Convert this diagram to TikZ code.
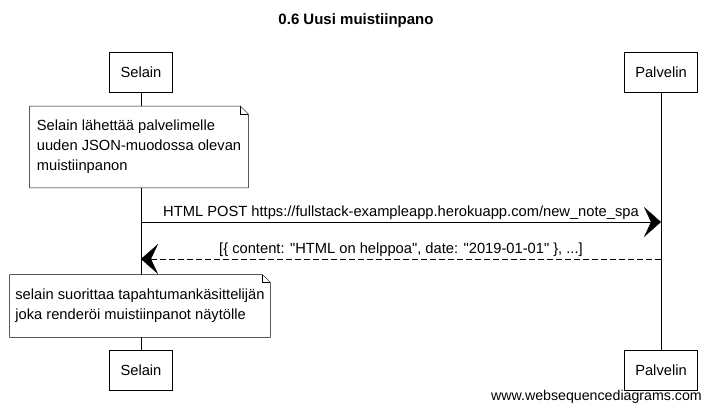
\documentclass[tikz,border=0pt]{standalone}
\usepackage{fontspec}
\setmainfont{Liberation Sans}
\usetikzlibrary{arrows.meta}
\usetikzlibrary{positioning}
\usetikzlibrary{backgrounds}

\tikzset{
    actor/.style={rectangle, draw, fill=white, inner xsep=11pt, minimum height=40pt},
    note/.style={rectangle, align=left, inner xsep=5pt, inner ysep=0pt},
    msg/.style={-{Stealth[length=17pt,width=30pt,inset=7pt]}},
    reply/.style={msg, dash pattern=on 6pt off 3pt},
}

\begin{document}
\begin{tikzpicture}[x=1pt, y=-1pt, line width=0.8pt,
    every node/.style={font=\fontsize{14.7}{20}\selectfont}]
    \useasboundingbox (0,0) rectangle (711,415);

    \draw (356, 21) node[font=\fontsize{15}{20}\selectfont\bfseries] (title) {0.6 Uusi muistiinpano};

    \foreach \who/\x/\lab in {selain/141/Selain, palvelin/661/Palvelin}{
        \draw (\x, 72) node[actor] (top\who) {\lab};
        \draw (\x, 370) node[actor] (bot\who) {\lab};
    }

    \draw (139, 147) node[note, minimum width=218pt, minimum height=81pt] (note1)
        {Selain lähettää palvelimelle\\uuden JSON-muodossa olevan\\muistiinpanon};
    \draw (140, 306) node[note, minimum width=260pt, minimum height=62pt] (note2)
        {selain suorittaa tapahtumankäsittelijän\\joka renderöi muistiinpanot näytölle};

    \begin{pgfonlayer}{background}
        \foreach \who in {selain, palvelin}{
            \draw (top\who) -- (bot\who);
        }
        % notes with a folded corner
        \foreach \n in {note1, note2}{
            \draw[fill=white] (\n.south west) -- (\n.north west) -- ([xshift=-8pt]\n.north east)
                -- ([yshift=-8pt]\n.north east) -- (\n.south east) -- cycle;
            \draw ([xshift=-8pt]\n.north east) -- ([xshift=-8pt, yshift=-8pt]\n.north east)
                -- ([yshift=-8pt]\n.north east);
        }
    \end{pgfonlayer}

    \coordinate (posts) at (topselain |- 0,222);
    \coordinate (postp) at (toppalvelin |- 0,222);
    \coordinate (datap) at (toppalvelin |- 0,259);
    \coordinate (datas) at (topselain |- 0,259);

    \draw[msg] (posts) -- node[above, inner sep=2pt] (post) {HTML POST https://fullstack-exampleapp.herokuapp.com/new\_note\_spa} (postp);
    \draw[reply] (datap) -- node[above, inner sep=2pt] (data) {[\{ content: \textquotedbl HTML on helppoa\textquotedbl, date: \textquotedbl 2019-01-01\textquotedbl\ \}, ...]} (datas);

    \draw (703, 397) node[anchor=east, inner sep=1pt, font=\fontsize{14.2}{20}\selectfont] (wsd) {www.websequencediagrams.com};
\end{tikzpicture}
\end{document}
